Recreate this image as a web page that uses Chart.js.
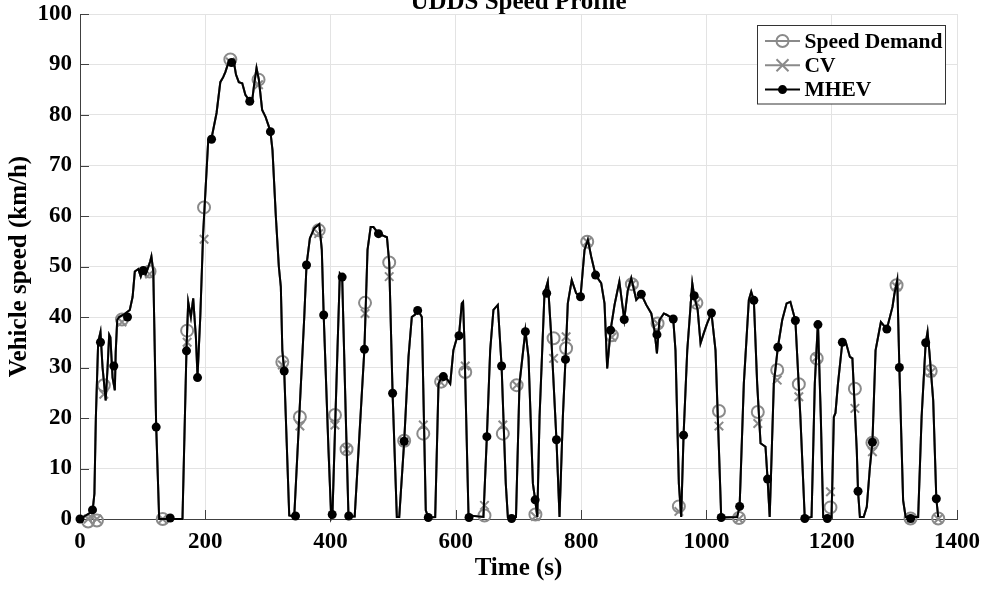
<!DOCTYPE html>
<html>
<head>
<meta charset="utf-8">
<title>UDDS Speed Profile</title>
<script src="https://cdn.jsdelivr.net/npm/chart.js@4.4.1/dist/chart.umd.min.js"></script>
<style>
  html, body { margin: 0; padding: 0; background: #fff; }
  #wrap { width: 987px; height: 590px; position: relative; }
</style>
</head>
<body>
<div id="wrap"><canvas id="speedChart"></canvas></div>
<script>
// speed trace (time in s, speed in km/h)
const timeS = [
  0, 20, 23, 25.3, 29, 32.7, 36, 41, 44, 46.6, 48.5, 52, 55.6, 57, 59.4, 62.5, 70, 79.5, 84, 87.5,
  93, 97, 101, 105, 108, 112, 114, 117, 121.6, 126.4, 163.6, 170, 172.7, 177, 180.7, 185, 187.6, 192, 196.6, 204.7,
  210, 218, 224, 228.6, 232, 236, 240, 245.5, 249, 253.5, 259, 264, 269.5, 275, 278, 281.8, 285.5, 290.8, 296, 301.5,
  304, 307.3, 312.6, 317.4, 320.6, 323, 326, 330, 334, 342, 350, 358, 361.6, 367, 374, 382, 386, 389, 396.7, 401,
  403, 411, 414.8, 418.5, 424.3, 428.6, 438.5, 454, 459, 464, 468.5, 476.5, 490, 493.6, 499, 505.8, 509.6, 517.5, 524.4, 529.7,
  535, 539, 545.7, 552, 556, 567, 572.3, 578, 583, 591, 596, 601.5, 605, 609.5, 611.5, 613.4, 620.2, 644, 649.5, 654.8,
  660, 667, 673, 679.7, 683, 696, 701.6, 711, 716, 723, 726.6, 730, 733.6, 741.5, 746.8, 752, 760.6, 765.5, 770.8, 775,
  778.7, 785, 792, 799, 805.4, 810.7, 816, 823, 832, 837.3, 841.6, 847, 853.3, 861, 868.8, 874.5, 880, 888, 896, 904,
  912, 917, 921, 925, 932, 937, 947, 950.6, 956, 959.7, 963.5, 969.4, 977.4, 980.5, 986, 990.6, 995.8, 1001, 1008, 1014.5,
  1020, 1023.6, 1049, 1053, 1059.7, 1067.7, 1071.5, 1075.7, 1081, 1086.4, 1094.3, 1097.6, 1101, 1107.6, 1114, 1121, 1128, 1134, 1142, 1150,
  1157, 1167.8, 1173, 1178, 1182.6, 1186.4, 1199.7, 1203.4, 1206, 1210, 1217, 1223, 1229, 1233, 1240, 1242, 1245, 1251, 1256, 1261,
  1265, 1270, 1278.5, 1288, 1297, 1300, 1304.6, 1308, 1314, 1318, 1338, 1343.5, 1350, 1353, 1356, 1362, 1367, 1370
];
const speedKmh = [
  0, 1.5, 5, 20, 35, 37, 30, 23.5, 30, 36.5, 36, 28, 25.5, 33, 39.4, 40, 40.5, 41.4, 44, 49,
  49.5, 48, 49.5, 48.5, 49.5, 51, 52, 49, 18.4, 0, 0, 33.6, 43, 40, 43.7, 36, 28.2, 40, 56.6, 75,
  75.4, 80.4, 86.5, 87.5, 88.5, 90, 90.6, 90.6, 88, 86.5, 86.3, 84, 83, 83, 86, 89.3, 87, 81, 79.7, 77.7,
  76.7, 73, 60, 50, 46, 33.4, 29.3, 15, 0.7, 0.5, 20.2, 40, 50.3, 55.6, 57.6, 58.4, 53.3, 40.4, 13.6, 0.3,
  1, 33.5, 48.6, 48, 20.2, 0.5, 0.5, 33.6, 53.3, 57.8, 57.8, 56.5, 55.8, 50.8, 24.9, 0.4, 0.4, 15.3, 32.1, 40,
  40.5, 41.5, 40, 1.7, 0.3, 0.4, 26.8, 28.3, 28.2, 26.8, 33.4, 35.8, 36.3, 42.7, 43, 36.1, 0.7, 0.4, 16.3, 33.4,
  41.4, 42.4, 30.3, 7, 0.4, 0.4, 26.8, 37.3, 32, 7, 3.8, 0.4, 20.2, 44.7, 47, 36.8, 15.7, 0.4, 20.2, 31.6,
  42.7, 47.3, 44.7, 44, 53.3, 55.3, 52, 48.3, 46.7, 42.7, 29.8, 37.4, 42.4, 47, 39.5, 45.3, 47.7, 43.4, 44.5, 42.4,
  40.7, 37.4, 32.8, 39.4, 40.7, 40.4, 39.6, 33.4, 7, 0.4, 16.6, 33.4, 46.7, 44.2, 41.4, 34.8, 36.8, 38.7, 40.8, 33.4,
  13.6, 0.3, 0.4, 2.5, 26.8, 43.4, 45, 43.3, 26.8, 15, 14.3, 7.9, 0.4, 26.8, 34, 39.4, 42.7, 43, 39.3, 20.2,
  0.1, 0.4, 26.8, 39, 20.2, 0.4, 0.4, 20.2, 21, 26.8, 35, 34.8, 32.1, 31.8, 13.6, 5.5, 0.4, 0.4, 2.4, 10.3,
  15.2, 33.4, 39, 37.6, 42, 44.5, 47.3, 30, 3.7, 0.4, 0.4, 20.2, 34.9, 37.1, 33, 23.5, 4, 0.4
];

// marker samples
const demandMarkT = [13, 27, 38, 67, 111, 132, 171, 198, 240, 285, 323, 351, 381, 407, 425.5, 455, 493.6, 517.5, 548, 576.5,
  615, 645.7, 675, 697, 727, 756, 776, 809.7, 849, 881, 922, 956, 984, 1020, 1052, 1082, 1113, 1147.5, 1176, 1198,
  1237, 1265, 1303.5, 1325.8, 1358, 1370];
const demandMarkV = [-0.5, -0.3, 26.5, 39.5, 49, 0, 37.3, 61.7, 91, 87, 31.1, 20.2, 57.2, 20.6, 13.8, 42.8, 50.8, 15.5, 16.9, 27.2,
  29.1, 0.7, 16.9, 26.5, 0.9, 35.8, 33.8, 54.9, 36.4, 46.5, 38.7, 2.5, 42.8, 21.4, 0.2, 21.2, 29.5, 26.7, 31.8, 2.3,
  25.8, 15.1, 46.3, 0.1, 29.3, 0.1];
const cvMarkT = demandMarkT;
const cvMarkV = [0, 0, 24.7, 39, 48.5, 0, 35, 55.4, 90.5, 86, 30.5, 18.4, 56.5, 18.6, 13.8, 40.7, 48, 15.3, 18.6, 27,
  30.3, 2.7, 18.6, 26.5, 0.5, 31.8, 36.1, 54.9, 36, 46.5, 38.7, 1.5, 42.8, 18.4, 0, 18.9, 27.5, 24.2, 32, 5.4,
  21.9, 13.3, 46, 0, 29, 0];
const mhevMarkT = [0, 20, 32.7, 54, 75.8, 101, 121.6, 144, 170, 187.6, 210, 242, 271, 304, 326, 344, 361.6, 389, 402.6, 418.5,
  429, 454, 476.5, 499, 517.5, 539, 556, 580, 605, 621, 649.5, 673, 689, 711, 726.6, 745, 760.6, 775, 799, 823,
  847, 868.8, 896, 921, 947, 963.5, 980.5, 1008, 1023.6, 1053, 1075.7, 1097.6, 1114, 1142, 1157, 1178, 1193, 1217, 1242, 1265,
  1288, 1308, 1326, 1350, 1367];
const mhevMarkV = [0, 1.8, 35, 30.3, 40, 49.2, 18.2, 0.2, 33.3, 28, 75.2, 90.4, 82.7, 76.7, 29.3, 0.6, 50.3, 40.4, 0.9, 47.9,
  0.6, 33.6, 56.5, 24.9, 15.4, 41.3, 0.3, 28.2, 36.3, 0.3, 16.3, 30.3, 0.1, 37.1, 3.8, 44.7, 15.7, 31.6, 44, 48.3,
  37.4, 39.5, 44.5, 36.5, 39.6, 16.6, 44.2, 40.8, 0.3, 2.5, 43.3, 7.9, 34, 39.3, 0.1, 38.5, 0.1, 35, 5.5, 15.2,
  37.6, 30, 0.1, 34.9, 4];

const seriesNames = ['Speed Demand', 'CV', 'MHEV'];
const xTicks = [0, 200, 400, 600, 800, 1000, 1200, 1400];
const yTicks = [0, 10, 20, 30, 40, 50, 60, 70, 80, 90, 100];

const GRAY = '#8a8a8a';
const AXIS = '#404040';
const FONT = 'Liberation Serif';

const zip = (xs, ys) => xs.map((x, i) => ({ x: x, y: ys[i] }));
const trace = zip(timeS, speedKmh);

// MATLAB-ish inward tick marks
const innerTicks = {
  id: 'innerTicks',
  beforeDatasetsDraw(chart) {
    const { ctx, chartArea: a, scales: { x, y } } = chart;
    ctx.save();
    ctx.strokeStyle = AXIS;
    ctx.lineWidth = 1;
    ctx.beginPath();
    xTicks.forEach(v => {
      const px = Math.round(x.getPixelForValue(v)) + 0.5;
      ctx.moveTo(px, a.bottom);
      ctx.lineTo(px, a.bottom - 9);
    });
    yTicks.forEach(v => {
      const py = Math.round(y.getPixelForValue(v)) + 0.5;
      ctx.moveTo(a.left, py);
      ctx.lineTo(a.left + 9, py);
    });
    ctx.stroke();
    ctx.restore();
  }
};

const drawMark = (ctx, kind, cx, cy) => {
  ctx.beginPath();
  if (kind === 'circle') {
    ctx.arc(cx, cy, 6, 0, Math.PI * 2);
    ctx.strokeStyle = GRAY; ctx.lineWidth = 2; ctx.stroke();
  } else if (kind === 'cross') {
    ctx.moveTo(cx - 6, cy - 6); ctx.lineTo(cx + 6, cy + 6);
    ctx.moveTo(cx - 6, cy + 6); ctx.lineTo(cx + 6, cy - 6);
    ctx.strokeStyle = GRAY; ctx.lineWidth = 2; ctx.stroke();
  } else {
    ctx.arc(cx, cy, 4.5, 0, Math.PI * 2);
    ctx.fillStyle = '#000'; ctx.fill();
  }
};

const titleAndLegend = {
  id: 'titleAndLegend',
  afterDraw(chart) {
    const ctx = chart.ctx;
    ctx.save();
    // title, cut by the top edge like the original
    ctx.fillStyle = '#000';
    ctx.font = 'bold 25px "' + FONT + '"';
    ctx.textAlign = 'center';
    ctx.textBaseline = 'alphabetic';
    ctx.fillText('UDDS Speed Profile', 518.5, 8.5);

    // legend box
    const bx = 757.5, by = 25.5, bw = 188, bh = 78.5;
    ctx.fillStyle = '#fff';
    ctx.fillRect(bx, by, bw, bh);
    ctx.strokeStyle = '#333';
    ctx.lineWidth = 1;
    ctx.strokeRect(bx, by, bw, bh);
    const kinds = ['circle', 'cross', 'dot'];
    const colors = [GRAY, GRAY, '#000'];
    ctx.font = 'bold 21.5px "' + FONT + '"';
    ctx.textAlign = 'left';
    ctx.textBaseline = 'middle';
    seriesNames.forEach((name, i) => {
      const cy = 41 + i * 24.3;
      ctx.beginPath();
      ctx.moveTo(765, cy); ctx.lineTo(800, cy);
      ctx.strokeStyle = colors[i]; ctx.lineWidth = 2; ctx.stroke();
      drawMark(ctx, kinds[i], 782.5, cy);
      ctx.fillStyle = '#000';
      ctx.fillText(name, 804.5, cy + 1);
    });
    ctx.restore();
  }
};

new Chart(document.getElementById('speedChart'), {
  type: 'line',
  data: {
    datasets: [
      { label: seriesNames[0], data: trace, borderColor: GRAY, borderWidth: 2, pointRadius: 0, clip: false, order: 5 },
      { label: seriesNames[1], data: trace, borderColor: GRAY, borderWidth: 2, pointRadius: 0, clip: false, order: 4 },
      { label: seriesNames[0] + ' markers', data: zip(demandMarkT, demandMarkV), showLine: false,
        pointStyle: 'circle', pointRadius: 6, pointBorderWidth: 2, pointBorderColor: GRAY,
        pointBackgroundColor: 'rgba(0,0,0,0)', clip: false, order: 3 },
      { label: seriesNames[1] + ' markers', data: zip(cvMarkT, cvMarkV), showLine: false,
        pointStyle: 'crossRot', pointRadius: 6, pointBorderWidth: 2, pointBorderColor: GRAY,
        clip: false, order: 2 },
      { label: seriesNames[2], data: trace, borderColor: '#000', borderWidth: 2, pointRadius: 0, clip: false, order: 1 },
      { label: seriesNames[2] + ' markers', data: zip(mhevMarkT, mhevMarkV), showLine: false,
        pointStyle: 'circle', pointRadius: 4.5, pointBorderWidth: 0, pointBackgroundColor: '#000',
        clip: false, order: 0 }
    ]
  },
  options: {
    responsive: true,
    maintainAspectRatio: false,
    animation: false,
    layout: { padding: { top: 14, right: 30, left: 0, bottom: 0 } },
    plugins: { legend: { display: false }, tooltip: { enabled: false }, title: { display: false } },
    scales: {
      x: {
        type: 'linear', min: 0, max: 1400,
        afterFit: s => { s.height = 71; s.paddingLeft = 0; s.paddingRight = 0; },
        afterBuildTicks: s => { s.ticks = xTicks.map(v => ({ value: v })); },
        grid: { color: '#e3e3e3', drawTicks: false },
        border: { color: AXIS, width: 1 },
        ticks: { color: '#000', padding: 9, maxRotation: 0, callback: v => String(v),
                 font: { family: FONT, size: 23, weight: 'bold' } },
        title: { display: true, text: 'Time (s)', color: '#000', padding: { top: 0, bottom: 6 },
                 font: { family: FONT, size: 25, weight: 'bold' } }
      },
      y: {
        min: 0, max: 100,
        afterFit: s => { s.width = 80; s.paddingTop = 0; s.paddingBottom = 0; },
        afterBuildTicks: s => { s.ticks = yTicks.map(v => ({ value: v })); },
        grid: { color: '#e3e3e3', drawTicks: false },
        border: { color: AXIS, width: 1 },
        ticks: { color: '#000', padding: 8, callback: v => String(v),
                 font: { family: FONT, size: 23, weight: 'bold' } },
        title: { display: true, text: 'Vehicle speed (km/h)', color: '#000', padding: { top: 4.5, bottom: 0 },
                 font: { family: FONT, size: 25, weight: 'bold' } }
      }
    }
  },
  plugins: [innerTicks, titleAndLegend]
});
</script>
</body>
</html>
